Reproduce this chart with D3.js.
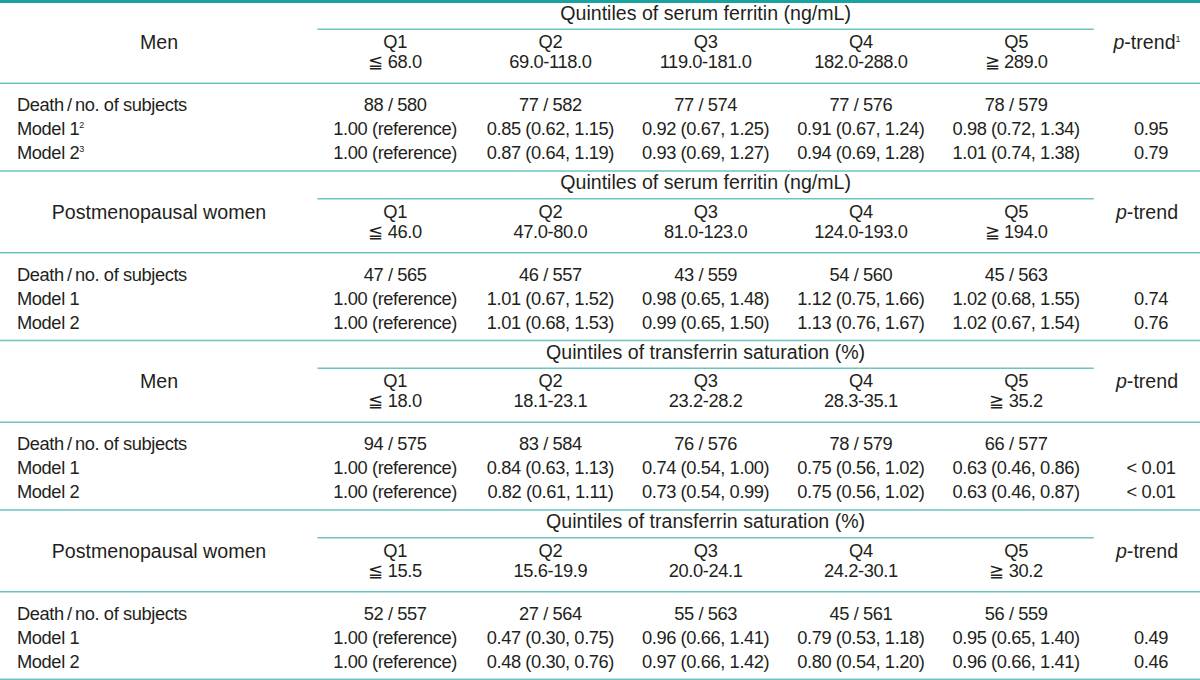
<!DOCTYPE html>
<html>
<head>
<meta charset="utf-8">
<script src="https://cdn.jsdelivr.net/npm/d3@7"></script>
<style>
  html, body { margin: 0; padding: 0; background: #fff; }
  svg { display: block; }
  text { font-family: "Liberation Sans", Arial, Helvetica, sans-serif; fill: #231f20; }
  text.d { letter-spacing: -0.4px; }
</style>
</head>
<body>
<svg id="chart" width="1200" height="680"></svg>
<script>
// ---------------- data ----------------
const blockTitles = [
  "Quintiles of serum ferritin (ng/mL)",
  "Quintiles of serum ferritin (ng/mL)",
  "Quintiles of transferrin saturation (%)",
  "Quintiles of transferrin saturation (%)"
];
const groupLabels = ["Men", "Postmenopausal women", "Men", "Postmenopausal women"];
const quintiles = ["Q1", "Q2", "Q3", "Q4", "Q5"];
const ranges = [
  ["≦ 68.0", "69.0-118.0", "119.0-181.0", "182.0-288.0", "≧ 289.0"],
  ["≦ 46.0", "47.0-80.0", "81.0-123.0", "124.0-193.0", "≧ 194.0"],
  ["≦ 18.0", "18.1-23.1", "23.2-28.2", "28.3-35.1", "≧ 35.2"],
  ["≦ 15.5", "15.6-19.9", "20.0-24.1", "24.2-30.1", "≧ 30.2"]
];
const deaths = [
  [88, 77, 77, 77, 78],
  [47, 46, 43, 54, 45],
  [94, 83, 76, 78, 66],
  [52, 27, 55, 45, 56]
];
const subjects = [
  [580, 582, 574, 576, 579],
  [565, 557, 559, 560, 563],
  [575, 584, 576, 579, 577],
  [557, 564, 563, 561, 559]
];
// [HR, lower CI, upper CI] for Q2..Q5 (Q1 is the reference)
const model1 = [
  [[0.85, 0.62, 1.15], [0.92, 0.67, 1.25], [0.91, 0.67, 1.24], [0.98, 0.72, 1.34]],
  [[1.01, 0.67, 1.52], [0.98, 0.65, 1.48], [1.12, 0.75, 1.66], [1.02, 0.68, 1.55]],
  [[0.84, 0.63, 1.13], [0.74, 0.54, 1.00], [0.75, 0.56, 1.02], [0.63, 0.46, 0.86]],
  [[0.47, 0.30, 0.75], [0.96, 0.66, 1.41], [0.79, 0.53, 1.18], [0.95, 0.65, 1.40]]
];
const model2 = [
  [[0.87, 0.64, 1.19], [0.93, 0.69, 1.27], [0.94, 0.69, 1.28], [1.01, 0.74, 1.38]],
  [[1.01, 0.68, 1.53], [0.99, 0.65, 1.50], [1.13, 0.76, 1.67], [1.02, 0.67, 1.54]],
  [[0.82, 0.61, 1.11], [0.73, 0.54, 0.99], [0.75, 0.56, 1.02], [0.63, 0.46, 0.87]],
  [[0.48, 0.30, 0.76], [0.97, 0.66, 1.42], [0.80, 0.54, 1.20], [0.96, 0.66, 1.41]]
];
const pTrend1 = ["0.95", "0.74", "< 0.01", "0.49"];
const pTrend2 = ["0.79", "0.76", "< 0.01", "0.46"];
const rowLabels = ["Death\u2009/\u2009no. of subjects", "Model 1", "Model 2"];
const rowNotes = [["", "2", "3"], ["", "", ""], ["", "", ""], ["", "", ""]];
const pTrendNotes = ["1", "", "", ""];

// ---------------- layout ----------------
const W = 1200, H = 680;
const svg = d3.select("#chart");
const f2 = d3.format(".2f");
const fmtHR = d => `${f2(d[0])} (${f2(d[1])}, ${f2(d[2])})`;

const blockY = d3.scaleBand().domain(d3.range(4)).range([0, 678]);
const colX = d3.scaleBand().domain(quintiles).range([317.5, 1093.75]);
const cx = q => colX(q) + colX.bandwidth() / 2;
const pX = 1147, groupX = 159, labelX = 17;
const rowY = d3.scaleOrdinal()
  .domain(["title", "sub", "q", "range", "sep", "r0", "r1", "r2", "group"])
  .range([19.8, 29.3, 48, 68, 83.3, 111, 135, 159, 49]);

const lineCol = "#6cc3c2";
const dataSize = 18.3, headSize = 19.6;

// top thick rule
svg.append("line").attr("x1", 0).attr("x2", W).attr("y1", 1.5).attr("y2", 1.5)
  .attr("stroke", "#18a39e").attr("stroke-width", 3);

d3.range(4).forEach(b => {
  const g = svg.append("g").attr("transform", `translate(0,${blockY(b)})`);
  if (b > 0) {
    g.append("line").attr("x1", 0).attr("x2", W).attr("y1", 1.5).attr("y2", 1.5)
      .attr("stroke", lineCol).attr("stroke-width", 1.5);
  }
  // title
  g.append("text").attr("x", (colX.range()[0] + colX.range()[1]) / 2).attr("y", rowY("title"))
    .attr("text-anchor", "middle").style("font-size", headSize + "px").text(blockTitles[b]);
  // sub line under title
  g.append("line").attr("x1", colX.range()[0]).attr("x2", colX.range()[1])
    .attr("y1", rowY("sub")).attr("y2", rowY("sub"))
    .attr("stroke", lineCol).attr("stroke-width", 1.4);
  // group label
  g.append("text").attr("x", groupX).attr("y", rowY("group")).attr("text-anchor", "middle")
    .style("font-size", headSize + "px").text(groupLabels[b]);
  // p-trend label
  const pt = g.append("text").attr("x", pX).attr("y", rowY("group")).attr("text-anchor", "middle")
    .style("font-size", headSize + "px");
  pt.append("tspan").style("font-style", "italic").text("p");
  pt.append("tspan").text("-trend");
  if (pTrendNotes[b]) {
    pt.append("tspan").attr("dy", -7).style("font-size", "9px").text(pTrendNotes[b]);
  }
  // quintile labels and ranges
  g.selectAll("text.q").data(quintiles).join("text").attr("class", "q d")
    .attr("x", d => cx(d)).attr("y", rowY("q")).attr("text-anchor", "middle")
    .style("font-size", dataSize + "px").text(d => d);
  g.selectAll("text.rg").data(ranges[b]).join("text").attr("class", "rg d")
    .attr("x", (d, i) => cx(quintiles[i])).attr("y", rowY("range")).attr("text-anchor", "middle")
    .style("font-size", dataSize + "px").text(d => d);
  // header/body separator
  g.append("line").attr("x1", 0).attr("x2", W).attr("y1", rowY("sep")).attr("y2", rowY("sep"))
    .attr("stroke", lineCol).attr("stroke-width", 1.5);
  // row labels
  rowLabels.forEach((lab, r) => {
    const t = g.append("text").attr("class", "d").attr("x", labelX).attr("y", rowY("r" + r))
      .style("font-size", dataSize + "px").text(lab);
    if (rowNotes[b][r]) {
      t.append("tspan").attr("dy", -7).style("font-size", "9px").text(rowNotes[b][r]);
    }
  });
  // death/no.
  g.selectAll("text.dn").data(quintiles).join("text").attr("class", "dn d")
    .attr("x", d => cx(d)).attr("y", rowY("r0")).attr("text-anchor", "middle")
    .style("font-size", dataSize + "px")
    .text((d, i) => `${deaths[b][i]} / ${subjects[b][i]}`);
  // models
  [model1[b], model2[b]].forEach((m, k) => {
    const vals = ["1.00 (reference)"].concat(m.map(fmtHR));
    g.selectAll("text.m" + k).data(quintiles).join("text").attr("class", "m" + k + " d")
      .attr("x", d => cx(d)).attr("y", rowY("r" + (k + 1))).attr("text-anchor", "middle")
      .style("font-size", dataSize + "px").text((d, i) => vals[i]);
    g.append("text").attr("class", "d").attr("x", pX + 4).attr("y", rowY("r" + (k + 1)))
      .attr("text-anchor", "middle")
      .style("font-size", dataSize + "px").text(k === 0 ? pTrend1[b] : pTrend2[b]);
  });
});
// bottom rule
svg.append("line").attr("x1", 0).attr("x2", W).attr("y1", 679.2).attr("y2", 679.2)
  .attr("stroke", lineCol).attr("stroke-width", 1.5);
</script>
</body>
</html>
